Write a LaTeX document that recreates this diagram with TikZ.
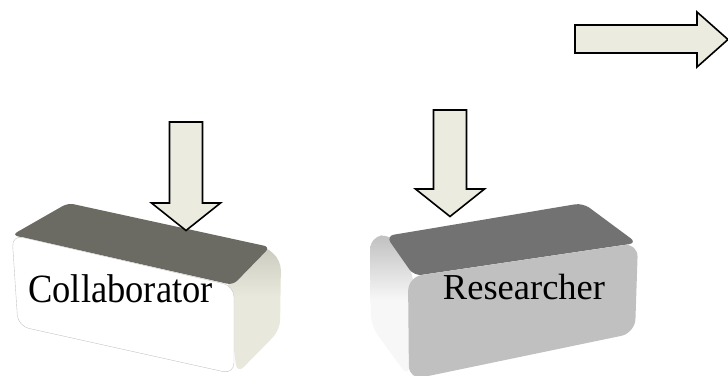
\documentclass[tikz,border=0pt]{standalone}
\usepackage{fontspec}
\setmainfont{Liberation Serif}
\definecolor{arrowfill}{HTML}{ECEBE0}
\definecolor{coltop}{HTML}{6B6A63}
\definecolor{colside}{HTML}{E9E8DC}
\definecolor{restop}{HTML}{727272}
\definecolor{resfront}{HTML}{C0C0C0}
\pgfdeclareverticalshading{colfade}{100bp}{color(0bp)=(colside); color(55bp)=(colside); color(100bp)=(coltop!55!colside)}
\pgfdeclareverticalshading{resfade}{100bp}{color(0bp)=(white!97!black); color(52bp)=(white!97!black); color(72bp)=(restop!40!white); color(100bp)=(restop!80!white)}
\begin{document}
\begin{tikzpicture}[x=1pt,y=-1pt,
    blockarrow/.style={draw=black,line width=1.6pt,fill=arrowfill,line join=miter},
    boxtext/.style={font=\fontsize{36.5}{40}\selectfont,anchor=base,inner sep=0pt}]
    \useasboundingbox (0,0) rectangle (728,375);

    % collaborator box
    \shade[shading=colfade,rounded corners=10pt]
        (226,284) -- (262,244) -- (281,260) -- (280,330) -- (237,374) -- cycle;
    \fill[coltop,rounded corners=6pt] (68,203) -- (270,247) -- (233,285) -- (12,235) -- cycle;
    \filldraw[fill=white,draw=gray!45,line width=0.4pt,rounded corners=11pt]
        (12,235) -- (234,286) -- (234,374) -- (18,326) -- cycle;
    \node[boxtext,yscale=1.1] (collab) at (120.5,302) {Collaborator};

    % researcher box
    \shade[shading=resfade,rounded corners=12pt]
        (370,237) -- (392,234) -- (414,276) -- (409,378) -- (371,326) -- cycle;
    \fill[restop,rounded corners=8pt] (386,236) -- (583,203) -- (637,243) -- (414,276) -- cycle;
    \fill[resfront,rounded corners=14pt] (408,277) -- (638,243) -- (635,333) -- (409,380) -- cycle;
    \node[boxtext] (resrch) at (524,299) {Researcher};

    % arrows down onto the boxes
    \foreach \cx/\ty/\sy in {186/122/203,450/110/189}
        \draw[blockarrow] (\cx-16.5,\ty) -- (\cx+16.5,\ty) -- (\cx+16.5,\sy) -- (\cx+34.5,\sy)
            -- (\cx,\sy+27.5) -- (\cx-34.5,\sy) -- (\cx-16.5,\sy) -- cycle;

    % arrow to the right
    \draw[blockarrow] (575,25) -- (697,25) -- (697,12) -- (728,39.5) -- (697,67) -- (697,53) -- (575,53) -- cycle;
\end{tikzpicture}
\end{document}
